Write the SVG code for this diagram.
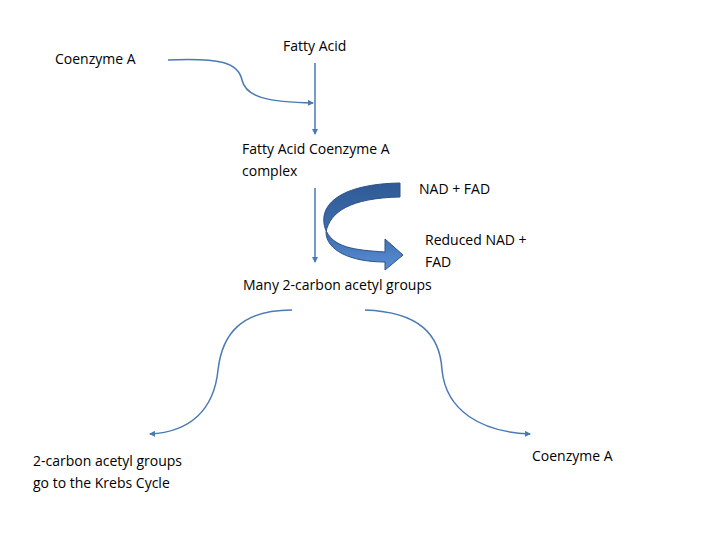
<svg xmlns="http://www.w3.org/2000/svg" width="720" height="540" viewBox="0 0 720 540">
<defs>
<marker id="ah" markerWidth="6" markerHeight="6" refX="5" refY="3" orient="auto" markerUnits="userSpaceOnUse"><path d="M0,0 L6,3 L0,6 z" fill="#4a7ab5"/></marker>
<linearGradient id="g" x1="0" y1="0" x2="0" y2="1"><stop offset="0" stop-color="#2f5a94"/><stop offset="0.6" stop-color="#3f6fb0"/><stop offset="1" stop-color="#5a8fd6"/></linearGradient>
</defs>
<style>
text{font-family:"Open Sans","Liberation Sans",sans-serif;font-size:14px;fill:#000}
.c{fill:none;stroke:#4a7ab5;stroke-width:1.5;marker-end:url(#ah)}
</style>
<rect width="720" height="540" fill="#fff"/>
<g id="connectors">
<path class="c" d="M168,60 C220,58 238,62 242,80 C246,98 270,102 313,103"/>
<path class="c" d="M315,63 L315,134"/>
<path class="c" d="M315,188 L315,262"/>
<path class="c" d="M292,310 C240,310 222,335 218,370 C214,410 190,432 150,434"/>
<path class="c" d="M365,310 C420,312 440,335 442,370 C446,410 480,432 530,434"/>
<path d="M400,183 C340,184 318,205 325,228 C332,248 355,250 385,252 L385,239 L403,255 L385,270 L385,262 C350,262 326,250 326,232 C330,212 350,198 400,197 Z" fill="url(#g)" stroke="#2d5288" stroke-width="1"/>
</g>
<g id="n1"><text x="55" y="64">Coenzyme A</text></g>
<g id="n2"><text x="283" y="51">Fatty Acid</text></g>
<g id="n3"><text x="242" y="154">Fatty Acid Coenzyme A</text><text x="242" y="176">complex</text></g>
<g id="n4"><text x="419" y="194">NAD + FAD</text></g>
<g id="n5"><text x="425" y="245">Reduced NAD +</text><text x="425" y="267">FAD</text></g>
<g id="n6"><text x="243" y="290">Many 2-carbon acetyl groups</text></g>
<g id="n7"><text x="33" y="466">2-carbon acetyl groups</text><text x="33" y="488">go to the Krebs Cycle</text></g>
<g id="n8"><text x="532" y="461">Coenzyme A</text></g>
</svg>
